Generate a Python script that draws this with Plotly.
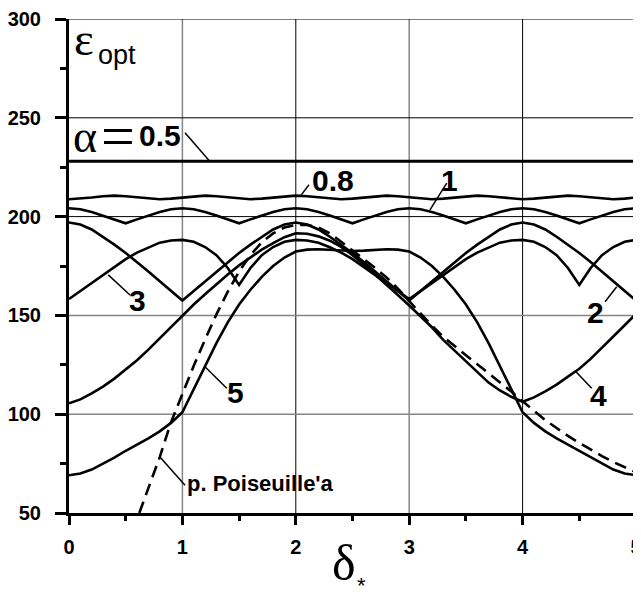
import plotly.graph_objects as go

# ---------------- data ----------------
x_grid = [round(0.1 * i, 1) for i in range(51)]

alpha_05_x = [0.0, 5.0]
alpha_05_y = [228.0, 228.0]

alpha_08_y = [
    208.8, 209.1, 209.7, 210.3, 210.6, 210.3, 209.7, 209.1,
    208.8, 209.1, 209.7, 210.3, 210.6, 210.3, 209.7, 209.1,
    208.8, 209.1, 209.7, 210.3, 210.6, 210.3, 209.7, 209.1,
    208.8, 209.1, 209.7, 210.3, 210.6, 210.3, 209.7, 209.1,
    208.8, 209.1, 209.7, 210.3, 210.6, 210.3, 209.7, 209.1,
    208.8, 209.1, 209.7, 210.3, 210.6, 210.3, 209.7, 209.1,
    208.8, 209.1, 209.7,
]

alpha_1_y = [
    204.2, 203.7, 202.3, 200.5, 198.6, 196.6, 198.6, 200.5, 202.3, 203.7,
    204.2, 203.7, 202.3, 200.5, 198.6, 196.6, 198.6, 200.5, 202.3, 203.7,
    204.2, 203.7, 202.3, 200.5, 198.6, 196.6, 198.6, 200.5, 202.3, 203.7,
    204.2, 203.7, 202.3, 200.5, 198.6, 196.6, 198.6, 200.5, 202.3, 203.7,
    204.2, 203.7, 202.3, 200.5, 198.6, 196.6, 198.6, 200.5, 202.3, 203.7,
    204.2,
]

alpha_2_y = [
    197.0, 196.0, 193.5, 189.8, 185.8, 181.6, 177.0, 172.2, 167.3, 162.4,
    157.5, 162.4, 167.3, 172.2, 177.0, 181.6, 185.8, 189.8, 193.5, 196.0,
    197.0, 196.0, 193.5, 189.8, 185.8, 181.6, 177.0, 172.2, 167.3, 162.4,
    157.5, 162.4, 167.3, 172.2, 177.0, 181.6, 185.8, 189.8, 193.5, 196.0,
    197.0, 196.0, 193.5, 189.8, 185.8, 181.6, 177.0, 172.2, 167.3, 162.4,
    157.5,
]

alpha_3_y = [
    158.3, 162.3, 166.3, 170.3, 174.5, 178.5, 181.8, 184.5, 186.8, 187.9,
    188.2, 187.3, 184.6, 180.5, 174.0, 165.4, 174.0, 180.5, 184.6, 187.3,
    188.2, 187.9, 186.8, 184.5, 181.8, 178.5, 174.5, 170.3, 166.3, 162.3,
    158.3, 162.3, 166.3, 170.3, 174.5, 178.5, 181.8, 184.5, 186.8, 187.9,
    188.2, 187.3, 184.6, 180.5, 174.0, 165.4, 174.0, 180.5, 184.6, 187.3,
    188.2,
]

alpha_4_y = [
    105.5, 107.5, 110.5, 114.0, 118.0, 122.5, 127.3, 132.7, 138.5, 144.3,
    150.2, 155.5, 160.7, 165.8, 170.7, 175.3, 179.5, 183.3, 186.6, 189.6,
    191.6, 191.3, 190.0, 187.8, 184.7, 180.5, 175.8, 170.8, 165.6, 160.3,
    155.0, 149.5, 144.0, 137.6, 132.2, 126.6, 121.0, 116.0, 112.0, 108.8,
    106.3, 108.5, 111.5, 115.0, 119.0, 123.0, 128.0, 133.5, 139.2, 145.0,
    150.8,
]

alpha_5_y = [
    69.1, 70.0, 72.0, 74.8, 78.0, 81.5, 84.6, 87.8, 91.3, 95.6,
    101.0, 112.5, 124.5, 136.0, 146.5, 155.5, 163.0, 169.5, 175.0, 179.3,
    182.3, 183.3, 183.5, 183.2, 182.8, 182.6, 182.8, 183.2, 183.5, 183.3,
    182.3, 179.3, 175.0, 169.5, 163.0, 155.5, 146.5, 136.0, 124.5, 112.5,
    101.0, 95.6, 91.3, 87.8, 84.6, 81.5, 78.0, 74.8, 72.0, 70.0,
    69.1,
]

poiseuille_x = [0.62] + [round(0.1 * i, 1) for i in range(7, 51)]
poiseuille_y = [
    50.0, 62.5, 78.3, 96.0, 110.5, 124.5, 137.8, 150.5, 162.0, 172.2,
    180.5, 187.0, 191.5, 194.5, 195.8, 195.8, 194.5, 191.5, 187.3, 183.0,
    178.5, 174.0, 169.2, 163.6, 157.2, 151.0, 144.8, 139.2, 134.3, 129.8,
    125.3, 120.8, 116.4, 111.5, 106.5, 101.5, 97.0, 93.0, 89.0, 85.5,
    82.0, 78.8, 75.8, 73.0, 70.6,
]

x_ticks = [0, 1, 2, 3, 4, 5]
y_ticks = [50, 100, 150, 200, 250, 300]
grid_x_gray = [1, 3, 5]
grid_x_black = [2, 4]
grid_y_gray = [100, 150]
grid_y_black = [200, 250, 300]

# ---------------- figure ----------------
fig = go.Figure()

solid = dict(color="black", width=2.6)
curves = [
    (alpha_05_x, alpha_05_y, dict(color="black", width=3)),
    (x_grid, alpha_08_y, solid),
    (x_grid, alpha_1_y, solid),
    (x_grid, alpha_2_y, solid),
    (x_grid, alpha_3_y, solid),
    (x_grid, alpha_4_y, solid),
    (x_grid, alpha_5_y, solid),
]
for xs, ys, ln in curves:
    fig.add_trace(go.Scatter(x=xs, y=ys, mode="lines", line=ln,
                             showlegend=False, hoverinfo="skip"))
fig.add_trace(go.Scatter(x=poiseuille_x, y=poiseuille_y, mode="lines",
                         line=dict(color="black", width=2.6, dash="12px,7px"),
                         showlegend=False, hoverinfo="skip"))

shapes = []
for gx in grid_x_gray:
    shapes.append(dict(type="line", xref="x", yref="y", x0=gx, x1=gx, y0=50, y1=300,
                       line=dict(color="#858585", width=1.5), layer="below"))
for gx in grid_x_black:
    shapes.append(dict(type="line", xref="x", yref="y", x0=gx, x1=gx, y0=50, y1=300,
                       line=dict(color="black", width=1), layer="below"))
for gy in grid_y_gray:
    shapes.append(dict(type="line", xref="x", yref="y", x0=0, x1=5, y0=gy, y1=gy,
                       line=dict(color="#858585", width=1.5), layer="below"))
for gy in grid_y_black:
    shapes.append(dict(type="line", xref="x", yref="y", x0=0, x1=5, y0=gy, y1=gy,
                       line=dict(color="black", width=1), layer="below"))

# leader lines for labels
leaders = [
    (1.023, 242.4, 1.243, 227.9),
    (2.116, 216.1, 2.037, 210.1),
    (3.331, 216.9, 3.183, 203.4),
    (4.727, 156.9, 4.830, 164.5),
    (0.538, 160.3, 0.346, 170.5),
    (4.609, 113.1, 4.462, 122.0),
    (1.391, 113.1, 1.199, 124.0),
    (1.023, 64.1, 0.802, 78.4),
]
for x0, y0, x1, y1 in leaders:
    shapes.append(dict(type="line", xref="x", yref="y", x0=x0, y0=y0, x1=x1, y1=y1,
                       line=dict(color="black", width=1.5)))

SANS = "Liberation Sans, Arial, sans-serif"
SERIF = "Liberation Serif, Times New Roman, serif"
BOLD = dict(family=SANS, size=30, color="black")
ann = []
def lab(text, x, y, font, xanchor="center", yanchor="middle", xref="x", yref="y"):
    ann.append(dict(text=text, x=x, y=y, xref=xref, yref=yref, showarrow=False,
                    xanchor=xanchor, yanchor=yanchor, font=font))

lab("<b>0.5</b>", 0.80, 241.0, BOLD)
lab("α", 0.141, 240.6, dict(family=SERIF, size=46, color="black"))
lab("=", 0.43, 241.0, dict(family=SERIF, size=60, color="black"))
lab("<b>0.8</b>", 2.324, 218.1, BOLD)
lab("<b>1</b>", 3.351, 218.1, BOLD)
lab("<b>2</b>", 4.643, 151.5, BOLD)
lab("<b>3</b>", 0.604, 157.3, BOLD)
lab("<b>4</b>", 4.668, 109.7, BOLD)
lab("<b>5</b>", 1.468, 111.0, BOLD)
lab("<b>p. Poiseuille'a</b>", 1.02, 65.1, dict(family=SANS, size=22, color="black"),
    xanchor="left")
lab("ε", 0.135, 290.0, dict(family=SERIF, size=47, color="black"))
lab("opt", 0.42, 281.6, dict(family=SANS, size=27, color="black"))
lab("δ", 2.425, -0.102, dict(family=SERIF, size=50, color="black"), yref="paper")
lab("*", 2.575, -0.146, dict(family=SANS, size=22, color="black"), yref="paper")

tickfont = dict(family=SANS, size=20, color="black")

# the page is drawn with an 8px body margin, so the figure is shifted by it
OFF = 8
fig.update_layout(
    width=641, height=592,
    margin=dict(l=69 - OFF, r=5 + OFF, t=19 - OFF, b=79 + OFF, pad=0),
    paper_bgcolor="white", plot_bgcolor="white",
    shapes=shapes, annotations=ann,
    xaxis=dict(range=[0, 5], tickvals=x_ticks,
               ticktext=["<b>%d</b>" % v for v in x_ticks],
               ticks="outside", ticklen=9, tickwidth=2.5, tickcolor="black",
               showline=True, linewidth=3, linecolor="black", automargin=False,
               showgrid=False, zeroline=False, tickfont=tickfont,
               ticklabelstandoff=5, ticklabeloverflow="allow",
               minor=dict(tickvals=[0.5, 1.5, 2.5, 3.5, 4.5], ticks="outside",
                          ticklen=5, tickwidth=2.5, tickcolor="black", showgrid=False)),
    yaxis=dict(range=[50, 300], tickvals=y_ticks,
               ticktext=["<b>%d</b>" % v for v in y_ticks],
               ticks="outside", ticklen=11, tickwidth=2.5, tickcolor="black",
               showline=True, linewidth=3, linecolor="black", automargin=False,
               showgrid=False, zeroline=False, tickfont=tickfont,
               ticklabelstandoff=10, ticklabeloverflow="allow",
               minor=dict(tickvals=[75, 125, 175, 225, 275], ticks="outside",
                          ticklen=6, tickwidth=2.5, tickcolor="black", showgrid=False)),
)

fig.write_html("out.html")
